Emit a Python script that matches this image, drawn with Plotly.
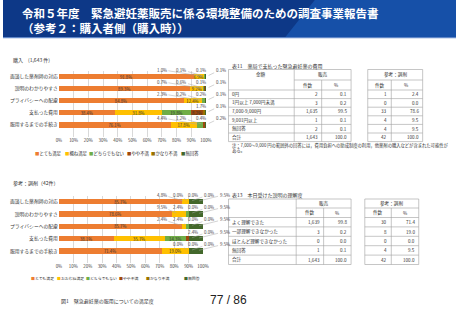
import plotly.graph_objects as go

W, H = 462, 320
def X(p): return p / W
def Y(p): return 1 - p / H

FONT = "Noto Sans CJK JP"

# ---------------- data ----------------
categories = ["面談した薬剤師の対応", "説明のわかりやすさ", "プライバシーへの配慮",
              "支払った費用", "服用するまでの手続き"]
levels_top = ["とても満足", "概ね満足", "どちらでもない", "やや不満", "かなり不満", "無回答"]
levels_bottom = ["とても満足", "おおむね満足", "どちらでもない", "やや不満", "かなり不満", "無回答"]
colors = ["#ED7D31", "#FFC000", "#70AD47", "#9E480E", "#997300", "#43682B"]

# 購入 (1,643件)
top_very_satisfied = [91.8, 89.3, 84.8, 38.4, 76.1]
top_mostly_satisfied = [6.9, 9.2, 12.4, 31.8, 17.8]
top_neutral = [1.0, 0.7, 2.3, 19.8, 4.4]
top_somewhat_dissatisfied = [0.1, 0.6, 0.2, 8.2, 1.2]
top_very_dissatisfied = [0.1, 0.1, 0.2, 1.7, 0.4]
top_no_answer = [0.1, 0.1, 0.1, 0.1, 0.2]

# 参考：調剤 (42件)
bot_very_satisfied = [85.7, 78.6, 85.7, 38.1, 71.4]
bot_mostly_satisfied = [4.8, 9.5, 2.4, 35.7, 19.0]
bot_neutral = [0.0, 2.4, 2.4, 14.3, 0.0]
bot_somewhat_dissatisfied = [0.0, 0.0, 0.0, 2.4, 0.0]
bot_very_dissatisfied = [0.0, 0.0, 0.0, 0.0, 0.0]
bot_no_answer = [9.5, 9.5, 9.5, 9.5, 9.5]

x_ticks = [0, 10, 20, 30, 40, 50, 60, 70, 80, 90, 100]
x_tick_labels = [f"{t}%" for t in x_ticks]

# 表11
t11_rows = ["0円", "1円以上 7,000円未満", "7,000-9,000円", "9,001円以上", "無回答", "合計"]
t11_sales_n = ["2", "3", "1,635", "1", "2", "1,643"]
t11_sales_pct = ["0.1", "0.2", "99.5", "0.1", "0.1", "100.0"]
t11_disp_n = ["1", "0", "33", "4", "4", "42"]
t11_disp_pct = ["2.4", "0.0", "78.6", "9.5", "9.5", "100.0"]

# 表13
t13_rows = ["よく理解できた", "一部理解できなかった", "ほとんど理解できなかった", "無回答", "合計"]
t13_sales_n = ["1,639", "3", "0", "1", "1,643"]
t13_sales_pct = ["99.8", "0.2", "0.0", "0.1", "100.0"]
t13_disp_n = ["30", "8", "0", "4", "42"]
t13_disp_pct = ["71.4", "19.0", "0.0", "9.5", "100.0"]

top_series = [top_very_satisfied, top_mostly_satisfied, top_neutral,
              top_somewhat_dissatisfied, top_very_dissatisfied, top_no_answer]
bot_series = [bot_very_satisfied, bot_mostly_satisfied, bot_neutral,
              bot_somewhat_dissatisfied, bot_very_dissatisfied, bot_no_answer]

fig = go.Figure()
annotations = []
shapes = []

def add_chart(series, names, xa, ya, thr):
    for vals, name, col in zip(series, names, colors):
        fig.add_trace(go.Bar(
            y=categories, x=vals, name=name, orientation="h",
            marker=dict(color=col, line=dict(width=0)),
            text=[f"{v:.1f}%" if v >= thr else "" for v in vals],
            textposition="inside", insidetextanchor="middle", textangle=0,
            textfont=dict(size=4.6, color="#333333", family=FONT),
            xaxis=xa, yaxis=ya, showlegend=False, hoverinfo="skip"))

def add_callouts(series, xa, ya, thr, right_off_px, spacing_px, axis_px):
    dpp = 100.0 / axis_px
    for r, cat in enumerate(categories):
        cum = 0.0
        small = []
        for vals in series:
            v = vals[r]
            if v < thr:
                small.append((cum + v / 2, v))
            cum += v
        for k, (center, v) in enumerate(reversed(small)):
            lx = 100 + (right_off_px - k * spacing_px) * dpp
            annotations.append(dict(
                x=center, y=cat, xref=xa, yref=ya, axref=xa, ax=lx, ay=-7,
                text=f"{v:.1f}%", showarrow=True, arrowhead=0, arrowwidth=0.5,
                arrowcolor="#a6a6a6", standoff=3,
                font=dict(size=4.4, color="#404040", family=FONT)))

add_chart(top_series, levels_top, "x", "y", 6)
add_chart(bot_series, levels_bottom, "x2", "y2", 10)
add_callouts(top_series, "x", "y", 6, 15, 20, 150)
add_callouts(bot_series, "x2", "y2", 10, 22, 16, 147)

def txt(x, y, s, size=5, color="#333333", anchor="left", family=FONT, bold=False):
    if bold:
        s = f"<b>{s}</b>"
    annotations.append(dict(x=X(x), y=Y(y), xref="paper", yref="paper", text=s,
                            showarrow=False, xanchor=anchor, yanchor="middle", align="left",
                            font=dict(size=size, color=color, family=family)))

# legends
def legend(names, xs, y, size):
    for name, col, x in zip(names, colors, xs):
        txt(x, y, f"<span style='color:{col}'>■</span>{name}", size=size)

legend(levels_top, [31, 61, 86, 124, 149, 179], 153, 4.4)
legend(levels_bottom, [27, 53, 83, 116, 144, 183], 278, 3.9)

# banner
shapes.append(dict(type="rect", xref="paper", yref="paper", x0=0, x1=1, y0=Y(37), y1=1,
                   fillcolor="#0d3887", line=dict(width=0), layer="below"))
shapes.append(dict(type="path", xref="paper", yref="paper",
                   path=f"M {X(288)} {Y(37)} L {X(318)} {Y(0)} L 1 {Y(0)} L 1 {Y(37)} Z",
                   fillcolor="#1650a8", line=dict(width=0), layer="below"))
shapes.append(dict(type="rect", xref="paper", yref="paper", x0=0, x1=1, y0=Y(38.2), y1=Y(37),
                   fillcolor="#5f86c8", line=dict(width=0), layer="below"))
txt(17, 20.5, "令和５年度　緊急避妊薬販売に係る環境整備のための調査事業報告書<br>（参考２：購入者側（購入時））",
    size=11.5, color="white", bold=True)

# chart headings & caption
txt(8, 60, "購入　(1,643 件)", size=5)
txt(8, 183, "参考：調剤（42件）", size=5)
txt(107, 301, "図1　緊急避妊薬の服用についての満足度", size=5, anchor="center")
txt(230, 300, "77 / 86", size=12, color="#222222", anchor="center", family="Liberation Sans")

# tables
LC = "#a0a0a0"
def hline(x0, x1, y):
    shapes.append(dict(type="line", xref="paper", yref="paper", x0=X(x0), x1=X(x1),
                       y0=Y(y), y1=Y(y), line=dict(color=LC, width=0.6)))
def vline(x, y0, y1):
    shapes.append(dict(type="line", xref="paper", yref="paper", x0=X(x), x1=X(x),
                       y0=Y(y0), y1=Y(y1), line=dict(color=LC, width=0.6)))

def draw_table(title, title_y, top, mid, hdr_bot, rh, lcols, rcols, first_hdr,
               rows, sn, sp, dn, dp):
    txt(231, title_y, title, size=5)
    n = len(rows)
    bottom = hdr_bot + rh * n
    hline(lcols[0], lcols[3], top)
    hline(lcols[1], lcols[3], mid)
    for i in range(n + 1):
        hline(lcols[0], lcols[3], hdr_bot + rh * i)
    vline(lcols[0], top, bottom)
    vline(lcols[1], top, bottom)
    vline(lcols[2], mid, bottom)
    vline(lcols[3], top, bottom)
    hline(rcols[0], rcols[2], top)
    hline(rcols[0], rcols[2], mid)
    for i in range(n + 1):
        hline(rcols[0], rcols[2], hdr_bot + rh * i)
    vline(rcols[0], top, bottom)
    vline(rcols[1], mid, bottom)
    vline(rcols[2], top, bottom)
    ym = (top + mid) / 2
    yh = (mid + hdr_bot) / 2
    if first_hdr:
        txt((lcols[0] + lcols[1]) / 2, ym, first_hdr, anchor="center", size=4.6)
    txt((lcols[1] + lcols[3]) / 2, ym, "販売", anchor="center", size=4.6)
    txt((lcols[1] + lcols[2]) / 2, yh, "件数", anchor="center", size=4.6)
    txt((lcols[2] + lcols[3]) / 2, yh, "%", anchor="center", size=4.6)
    txt((rcols[0] + rcols[2]) / 2, ym, "参考：調剤", anchor="center", size=4.6)
    txt((rcols[0] + rcols[1]) / 2, yh, "件数", anchor="center", size=4.6)
    txt((rcols[1] + rcols[2]) / 2, yh, "%", anchor="center", size=4.6)
    for i in range(n):
        yc = hdr_bot + rh * (i + 0.5)
        txt(lcols[0] + 2, yc, rows[i], size=4.6)
        txt(lcols[2] - 2, yc, sn[i], anchor="right", size=4.6)
        txt(lcols[3] - 2, yc, sp[i], anchor="right", size=4.6)
        txt(rcols[1] - 2, yc, dn[i], anchor="right", size=4.6)
        txt(rcols[2] - 2, yc, dp[i], anchor="right", size=4.6)

draw_table("表11　薬局で支払った緊急避妊薬の費用", 65.5, 69.5, 80, 90, 8.6,
           [230, 297, 325, 355], [372, 396, 428], "金額",
           t11_rows, t11_sales_n, t11_sales_pct, t11_disp_n, t11_disp_pct)
txt(231, 145.5, "注：7,000～9,000 円の範囲外の回答には，費用負担への助成制度の利用，他薬剤の購入などが含まれた可能性が", size=4.3)
txt(231, 150.5, "ある。", size=4.3)

draw_table("表13　本日受けた説明の理解度", 195, 199, 208, 217.5, 9.4,
           [230, 299, 327, 355], [369, 396, 424], "",
           t13_rows, t13_sales_n, t13_sales_pct, t13_disp_n, t13_disp_pct)

axis_common = dict(range=[0, 100], tickvals=x_ticks, ticktext=x_tick_labels,
                   showgrid=True, gridcolor="#d9d9d9", gridwidth=0.6, zeroline=False,
                   showline=False, ticks="", tickfont=dict(size=4.4, color="#404040", family=FONT),
                   fixedrange=True)
yaxis_common = dict(autorange="reversed", showgrid=False, zeroline=False, showline=False,
                    ticks="", tickfont=dict(size=4.8, color="#333333", family=FONT),
                    fixedrange=True)

fig.update_layout(
    width=W, height=H, margin=dict(l=0, r=0, t=0, b=0),
    paper_bgcolor="white", plot_bgcolor="rgba(0,0,0,0)",
    barmode="stack", bargap=0.55,
    uniformtext=dict(minsize=4, mode="show"),
    xaxis=dict(domain=[X(57), X(207)], anchor="y", **axis_common),
    yaxis=dict(domain=[Y(136.8), Y(70.7)], anchor="x", **yaxis_common),
    xaxis2=dict(domain=[X(57), X(204)], anchor="y2", **axis_common),
    yaxis2=dict(domain=[Y(263), Y(195.5)], anchor="x2", **yaxis_common),
    annotations=annotations, shapes=shapes,
    font=dict(family=FONT),
)

fig.write_html("out.html")
